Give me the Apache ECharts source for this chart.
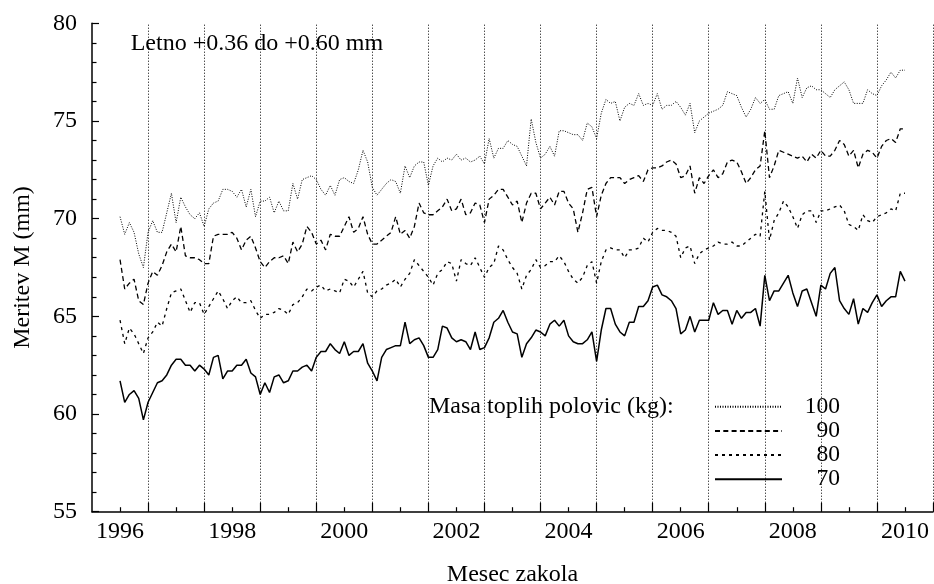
<!DOCTYPE html>
<html>
<head>
<meta charset="utf-8">
<title>Meritev M</title>
<script src="https://cdn.jsdelivr.net/npm/echarts@6.0.0/dist/echarts.min.js"></script>
<style>
  html, body { margin: 0; padding: 0; background: #fff; }
  #chart { width: 934px; height: 584px; }
</style>
</head>
<body>
<div id="chart"></div>
<script>
// mesecne vrednosti, januar 1996 - januar 2010
const startYear = 1996;

const mass100 = [
  70.1, 69.2, 69.8, 69.3, 68.2, 67.5, 69.3, 69.9, 69.3, 69.3, 70.3, 71.3, 69.8, 71.1, 70.6, 70.2, 70.0, 70.3, 69.6, 70.5,
  70.8, 70.9, 71.5, 71.5, 71.4, 71.1, 71.5, 70.6, 71.5, 70.1, 70.9, 70.9, 71.1, 70.3, 70.9, 70.4, 70.4, 71.8, 71.0, 72.0,
  72.1, 72.2, 72.0, 71.5, 71.2, 71.7, 71.2, 72.0, 72.1, 71.9, 71.8, 72.5, 73.5, 72.9, 71.6, 71.2, 71.5, 71.8, 72.0, 71.9,
  71.3, 72.7, 72.1, 72.7, 72.9, 72.9, 71.7, 72.7, 73.1, 72.9, 73.1, 73.0, 73.3, 73.0, 73.1, 72.9, 73.0, 73.2, 72.8, 74.1,
  73.1, 73.6, 73.6, 74.0, 73.8, 73.7, 73.2, 72.7, 75.1, 73.9, 73.1, 73.3, 73.7, 73.2, 74.5, 74.5, 74.4, 74.3, 74.3, 74.0,
  74.9, 74.7, 74.1, 75.4, 76.1, 75.9, 76.0, 75.0, 75.7, 75.9, 75.8, 76.4, 75.8, 75.9, 75.8, 76.4, 75.6, 75.8, 75.8, 76.0,
  75.7, 75.3, 75.9, 74.4, 75.0, 75.2, 75.4, 75.5, 75.6, 75.8, 76.5, 76.4, 76.3, 75.7, 75.2, 75.6, 76.2, 75.9, 76.1, 75.6,
  75.6, 76.3, 76.4, 76.5, 75.9, 77.2, 76.2, 76.7, 76.8, 76.6, 76.6, 76.4, 76.2, 76.6, 76.8, 77.0, 76.6, 75.9, 75.9, 75.9,
  76.6, 76.4, 76.3, 76.8, 77.1, 77.5, 77.2, 77.6, 77.6
];
const mass90 = [
  67.9, 66.4, 66.7, 66.9, 65.8, 65.6, 66.7, 67.3, 67.1, 67.6, 68.3, 68.7, 68.3, 69.6, 68.1, 68.0, 68.0, 67.9, 67.7, 67.7,
  69.1, 69.2, 69.2, 69.2, 69.3, 69.0, 68.4, 68.9, 69.1, 68.5, 67.8, 67.5, 67.8, 68.0, 68.0, 68.1, 67.7, 68.8, 68.3, 68.7,
  69.6, 69.3, 68.7, 68.9, 68.4, 69.2, 69.1, 69.1, 69.6, 70.1, 69.3, 69.5, 70.1, 69.2, 68.7, 68.7, 68.9, 69.1, 69.3, 70.1,
  69.2, 69.4, 69.0, 69.6, 70.8, 70.3, 70.2, 70.2, 70.4, 70.6, 71.0, 70.4, 70.5, 71.0, 70.2, 70.3, 70.8, 70.7, 69.8, 71.0,
  71.2, 71.5, 71.5, 71.1, 70.7, 70.9, 69.8, 70.8, 71.3, 71.3, 70.5, 70.8, 71.1, 70.7, 71.4, 71.4, 70.8, 70.5, 69.3, 70.3,
  71.5, 71.6, 70.1, 71.2, 71.8, 72.1, 72.1, 72.1, 71.8, 72.0, 72.1, 72.2, 71.9, 72.5, 72.6, 72.6, 72.7, 72.9, 73.0, 72.8,
  72.1, 72.2, 72.7, 71.3, 72.1, 71.8, 72.2, 72.5, 72.1, 72.3, 72.9, 73.0, 72.9, 72.4, 71.8, 72.1, 72.5, 72.7, 74.5, 72.1,
  72.7, 73.5, 73.4, 73.3, 73.2, 73.1, 73.2, 72.9, 73.3, 73.1, 73.5, 73.2, 73.2, 73.5, 74.0, 73.8, 73.2, 73.5, 72.6, 73.3,
  73.5, 73.4, 73.1, 73.7, 74.0, 74.1, 73.9, 74.6, 74.6
];
const mass80 = [
  64.8, 63.6, 64.4, 64.1, 63.6, 63.1, 63.9, 64.2, 64.7, 64.5, 65.4, 66.2, 66.3, 66.4, 65.8, 65.2, 65.7, 65.7, 65.1, 65.5,
  65.9, 66.3, 65.9, 65.4, 65.8, 66.0, 65.7, 65.7, 65.8, 65.3, 64.9, 65.1, 65.1, 65.2, 65.4, 65.3, 65.1, 65.6, 65.7, 66.0,
  66.4, 66.3, 66.5, 66.6, 66.3, 66.4, 66.3, 66.2, 66.9, 66.8, 66.5, 66.9, 67.3, 66.2, 66.0, 66.3, 66.4, 66.6, 66.7, 66.9,
  66.5, 66.9, 67.2, 67.9, 67.6, 67.3, 67.0, 66.6, 67.2, 67.4, 67.8, 67.7, 66.8, 67.9, 67.7, 67.6, 68.0, 67.5, 67.0, 67.5,
  67.7, 68.6, 68.4, 67.9, 67.5, 67.2, 66.4, 67.1, 67.4, 67.9, 67.5, 67.6, 67.8, 67.8, 68.1, 67.8, 67.3, 66.9, 66.7, 67.0,
  67.6, 67.8, 66.7, 67.8, 68.4, 68.5, 68.4, 68.4, 68.0, 68.4, 68.4, 68.5, 69.0, 68.8, 69.3, 69.5, 69.4, 69.4, 69.3, 69.1,
  68.0, 68.5, 68.6, 67.7, 68.2, 68.4, 68.5, 68.6, 68.8, 68.7, 68.7, 68.8, 68.6, 68.6, 68.8, 69.0, 69.2, 69.1, 71.4, 68.9,
  69.9, 70.3, 70.9, 70.6, 70.1, 69.5, 70.2, 70.4, 70.4, 69.8, 70.4, 70.4, 70.5, 70.6, 70.7, 70.4, 69.7, 69.6, 69.4, 70.2,
  69.9, 69.8, 70.1, 70.2, 70.3, 70.5, 70.4, 71.3, 71.3
];
const mass70 = [
  61.7, 60.6, 61.0, 61.2, 60.8, 59.7, 60.6, 61.1, 61.6, 61.7, 62.0, 62.5, 62.8, 62.8, 62.5, 62.5, 62.2, 62.5, 62.3, 62.0,
  62.9, 63.0, 61.8, 62.2, 62.2, 62.5, 62.5, 62.8, 62.1, 61.9, 61.0, 61.6, 61.1, 61.9, 62.0, 61.6, 61.7, 62.2, 62.2, 62.4,
  62.5, 62.2, 62.9, 63.2, 63.2, 63.6, 63.3, 63.1, 63.7, 63.0, 63.2, 63.2, 63.6, 62.6, 62.2, 61.7, 62.9, 63.3, 63.4, 63.5,
  63.5, 64.7, 63.6, 63.8, 63.9, 63.5, 62.9, 62.9, 63.3, 64.5, 64.4, 63.9, 63.7, 63.8, 63.7, 63.3, 64.2, 63.3, 63.4, 63.9,
  64.7, 64.9, 65.3, 64.7, 64.2, 64.1, 62.9, 63.6, 63.9, 64.3, 64.2, 64.0, 64.6, 64.8, 64.5, 64.8, 64.0, 63.7, 63.6, 63.6,
  63.8, 64.2, 62.7, 64.3, 65.4, 65.4, 64.6, 64.2, 64.0, 64.7, 64.7, 65.5, 65.5, 65.8, 66.5, 66.6, 66.1, 66.0, 65.8, 65.4,
  64.1, 64.3, 65.0, 64.2, 64.8, 64.8, 64.8, 65.7, 65.1, 65.3, 65.3, 64.6, 65.3, 64.9, 65.2, 65.2, 65.4, 64.5, 67.1, 65.8,
  66.3, 66.3, 66.7, 67.1, 66.2, 65.5, 66.3, 66.4, 65.7, 65.0, 66.6, 66.4, 67.2, 67.5, 65.8, 65.4, 65.1, 65.9, 64.6, 65.4,
  65.2, 65.7, 66.1, 65.5, 65.8, 66.0, 66.0, 67.3, 66.8
];

const seriesNames = ['100', '90', '80', '70'];
const labelYears = [1996, 1998, 2000, 2002, 2004, 2006, 2008, 2010];
const wholeYears = [1996, 1997, 1998, 1999, 2000, 2001, 2002, 2003, 2004, 2005, 2006, 2007, 2008, 2009, 2010];
const halfYears = [1996.5, 1997.5, 1998.5, 1999.5, 2000.5, 2001.5, 2002.5, 2003.5, 2004.5, 2005.5, 2006.5, 2007.5, 2008.5, 2009.5, 2010.5];

const serif = 'Liberation Serif';

function toPoints(arr) {
  return arr.map((v, i) => [startYear + i / 12, v]);
}

const chart = echarts.init(document.getElementById('chart'), null, { renderer: 'canvas' });

const tickLine = { color: '#000', width: 1.2 };

const option = {
  animation: false,
  backgroundColor: '#fff',
  grid: { left: 92, right: 1, top: 23.3, bottom: 72.3, outerBoundsMode: 'none', containLabel: false },
  xAxis: [
    {
      type: 'value', min: 1995.5, max: 2010.5,
      name: 'Mesec zakola', nameLocation: 'middle', nameGap: 51,
      nameTextStyle: { fontFamily: serif, fontSize: 24, color: '#000' },
      axisLine: { onZero: false, lineStyle: { color: '#000', width: 1.5 } },
      axisTick: { inside: true, length: 9, customValues: halfYears, lineStyle: tickLine },
      axisLabel: {
        customValues: labelYears, margin: 8,
        fontFamily: serif, fontSize: 24, color: '#000',
        formatter: v => String(v)
      },
      splitLine: { show: false }
    },
    {
      type: 'value', min: 1995.5, max: 2010.5, position: 'bottom',
      axisLine: { show: false },
      axisTick: { inside: true, length: 4.5, customValues: wholeYears, lineStyle: tickLine },
      axisLabel: { show: false },
      splitLine: { show: false }
    }
  ],
  yAxis: {
    type: 'value', min: 55, max: 80, interval: 5,
    name: 'Meritev M (mm)', nameLocation: 'middle', nameGap: 57,
    nameTextStyle: { fontFamily: serif, fontSize: 24, color: '#000' },
    axisLine: { show: true, lineStyle: { color: '#000', width: 1.5 } },
    axisTick: { show: true, inside: true, length: 7, lineStyle: tickLine },
    minorTick: { show: true, splitNumber: 5, length: 4.5, lineStyle: tickLine },
    axisLabel: { fontFamily: serif, fontSize: 24, color: '#000', margin: 15 },
    splitLine: { show: false }
  },
  legend: {
    data: seriesNames,
    orient: 'vertical',
    left: 700, top: 394.7,
    padding: [0, 20, 2, 14],
    backgroundColor: '#fff',
    itemWidth: 67, itemHeight: 24, itemGap: 0.2,
    selectedMode: false,
    itemStyle: { opacity: 0 },
    formatter: name => '{n|' + name + '}',
    textStyle: {
      fontFamily: serif, fontSize: 23.5, color: '#000',
      rich: { n: { width: 53, align: 'right', fontFamily: serif, fontSize: 23.5, color: '#000' } }
    }
  },
  graphic: [
    {
      type: 'text', x: 130.7, y: 43.5,
      style: { text: 'Letno +0.36 do +0.60 mm', fontFamily: serif, fontSize: 24, fill: '#000', verticalAlign: 'middle' }
    },
    {
      type: 'text', x: 429, y: 406.7,
      style: { text: 'Masa toplih polovic (kg):', fontFamily: serif, fontSize: 24, fill: '#000', verticalAlign: 'middle' }
    }
  ],
  series: [
    {
      name: '100', type: 'line', data: toPoints(mass100), symbol: 'none',
      lineStyle: { color: '#000', width: 1, type: [1, 1.5] }, itemStyle: { color: '#000' },
      markLine: {
        silent: true, symbol: ['none', 'none'], label: { show: false }, animation: false,
        lineStyle: { color: '#000', width: 1, type: [1, 2] },
        data: halfYears.map(x => ({ xAxis: x }))
      }
    },
    {
      name: '90', type: 'line', data: toPoints(mass90), symbol: 'none',
      lineStyle: { color: '#000', width: 1.3, type: [5, 3.3] }, itemStyle: { color: '#000' }
    },
    {
      name: '80', type: 'line', data: toPoints(mass80), symbol: 'none',
      lineStyle: { color: '#000', width: 1.3, type: [3, 4] }, itemStyle: { color: '#000' }
    },
    {
      name: '70', type: 'line', data: toPoints(mass70), symbol: 'none',
      lineStyle: { color: '#000', width: 1.5 }, itemStyle: { color: '#000' }
    }
  ]
};

chart.setOption(option);
</script>
</body>
</html>
